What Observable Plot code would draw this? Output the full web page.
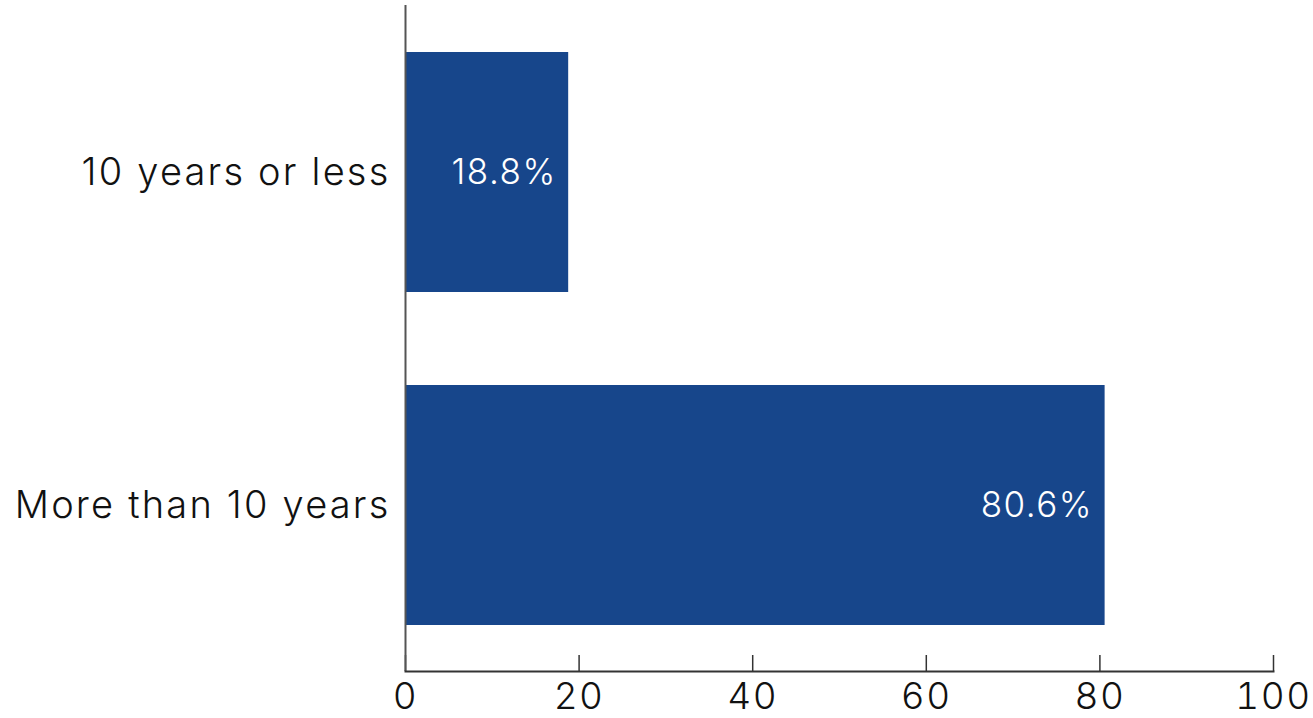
<!DOCTYPE html>
<html>
<head>
<meta charset="utf-8">
<script src="https://cdn.jsdelivr.net/npm/d3@7"></script>
<script src="https://cdn.jsdelivr.net/npm/@observablehq/plot@0.6"></script>
<style>
  html, body { margin: 0; padding: 0; background: #fff; }
  #chart svg { overflow: visible; font-family: Inter, "Open Sans", sans-serif; }
  #chart svg g[aria-label="y-axis tick label"] text { letter-spacing: 2.2px; }
  #chart svg g[aria-label="x-axis tick label"] text { letter-spacing: 1.5px; }
  #chart svg g[aria-label="text"] text { letter-spacing: 1.5px; }
</style>
</head>
<body>
<div id="chart"></div>
<script>
const categories = ["10 years or less", "More than 10 years"];
const values = [18.8, 80.6];
const xTicks = [0, 20, 40, 60, 80, 100];

const data = categories.map((c, i) => ({category: c, value: values[i]}));

const chart = Plot.plot({
  width: 1313,
  height: 718,
  marginTop: 5,
  marginBottom: 47,
  marginLeft: 405,
  marginRight: 40,
  style: {fontFamily: "Inter, 'Open Sans', sans-serif", background: "#fff"},
  x: {domain: [0, 100], ticks: xTicks},
  y: {domain: categories, paddingInner: 0.28, paddingOuter: 0.14},
  marks: [
    Plot.barX(data, {y: "category", x: "value", fill: "#17468b"}),
    Plot.text(data, {
      y: "category", x: "value", text: d => d.value.toFixed(1) + "%",
      textAnchor: "end", dx: -12, fill: "white", fontSize: 35, fontWeight: 300
    }),
    Plot.ruleX(xTicks, {x: d => d, insetTop: 650, stroke: "#333", strokeWidth: 1.5}),
    Plot.ruleX([0], {stroke: "#555", strokeWidth: 2}),
    Plot.axisX({ticks: xTicks, tickSize: 0, tickPadding: 11, fontSize: 37, fontWeight: 300, label: null, color: "#111"}),
    Plot.axisY({tickSize: 0, tickPadding: 15, fontSize: 38, fontWeight: 300, label: null, color: "#111"}),
    Plot.frame({anchor: "bottom", stroke: "#333", strokeWidth: 2})
  ]
});
document.getElementById("chart").appendChild(chart);
</script>
</body>
</html>
